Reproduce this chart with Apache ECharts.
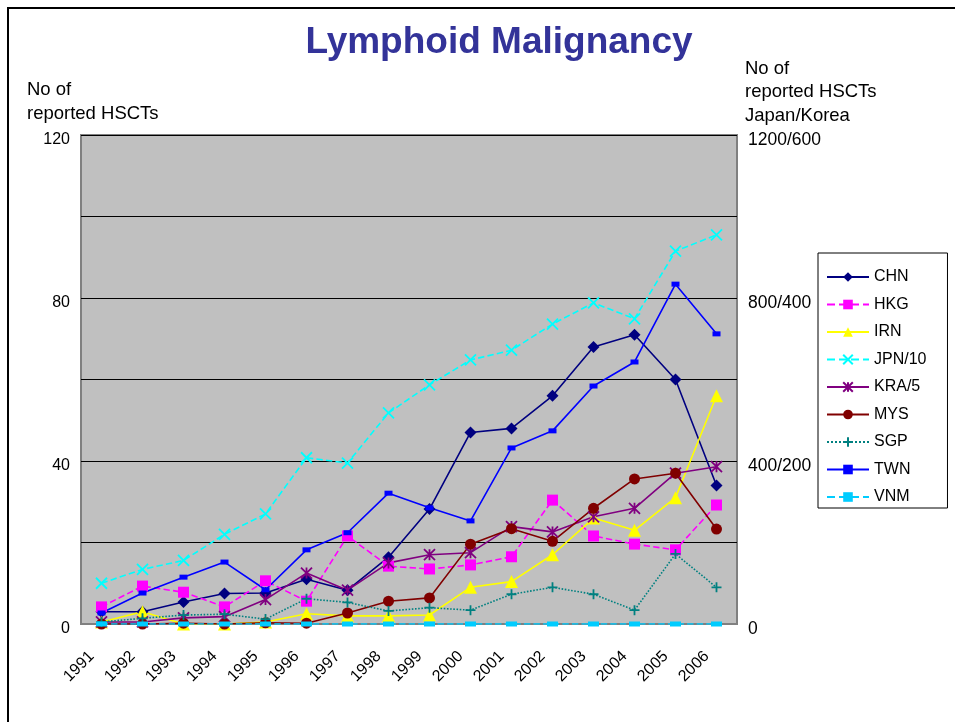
<!DOCTYPE html>
<html>
<head>
<meta charset="utf-8">
<script src="https://cdn.jsdelivr.net/npm/echarts@6/dist/echarts.min.js"></script>
<style>
  html, body { margin: 0; padding: 0; background: #fff; }
  #main { width: 955px; height: 722px; }
</style>
</head>
<body>
<div id="main"></div>
<script>
// data
var years = ['1991', '1992', '1993', '1994', '1995', '1996', '1997', '1998',
  '1999', '2000', '2001', '2002', '2003', '2004', '2005', '2006'];
var chn = [3, 3, 5.4, 7.5, 7.6, 11, 8.3, 16.4, 28.2, 47, 48, 56, 68, 71, 60, 34];
var hkg = [4.2, 9.3, 7.8, 4.2, 10.6, 5.6, 21.6, 14.2, 13.5, 14.5, 16.5, 30.4, 21.6, 19.6, 18.2, 29.2];
var irn = [0.5, 3, 0, 0, 0.5, 2.5, 2, 2, 2.2, 9, 10.4, 17, 26, 23, 31, 56];
var jpn10 = [10, 13.4, 15.6, 22, 27, 40.8, 39.5, 51.8, 58.7, 64.8, 67.2, 73.6, 78.8, 74.9, 91.5, 95.5];
var kra5 = [0.5, 0.5, 1.5, 1.8, 6, 12.5, 8.3, 15, 17, 17.5, 23.9, 22.6, 26.3, 28.4, 37, 38.6];
var mys = [0, 0, 0.2, 0, 0.3, 0.2, 2.7, 5.6, 6.4, 19.6, 23.4, 20.3, 28.4, 35.6, 37, 23.3];
var sgp = [0.5, 1.4, 2.2, 2.4, 1.2, 6.2, 5.3, 3.2, 4, 3.4, 7.3, 9, 7.3, 3.4, 17.2, 9];
var twn = [2.7, 7.6, 11.5, 15.2, 8.4, 18.2, 22.4, 32.1, 28.5, 25.3, 43.2, 47.4, 58.4, 64.3, 83.4, 71.2];
var vnm = [0, 0, 0, 0, 0, 0, 0, 0, 0, 0, 0, 0, 0, 0, 0, 0];
var leftTicks = [0, 40, 80, 120];
var rightTicks = ['0', '400/200', '800/400', '1200/600'];

var font = 'Liberation Sans';
var chart = echarts.init(document.getElementById('main'));

function mk(name, data, color, symbol, size, lineType, extra) {
  var s = {
    name: name,
    type: 'line',
    data: data,
    symbol: symbol,
    symbolSize: size,
    lineStyle: { color: color, width: 1.6, type: lineType },
    itemStyle: { color: color },
    emphasis: { disabled: true },
    animation: false
  };
  if (extra) s.itemStyle = extra;
  return s;
}

var option = {
  backgroundColor: '#fff',
  title: {
    text: 'Lymphoid Malignancy',
    left: 494, top: 19, textAlign: 'center',
    textStyle: { fontFamily: font, fontSize: 37, fontWeight: 'bold', color: '#333399' }
  },
  graphic: [
    { type: 'rect', shape: { x: 8, y: 8, width: 980, height: 760 },
      style: { fill: 'none', stroke: '#000', lineWidth: 2 }, silent: true },
    { type: 'text', left: 27, top: 78,
      style: { text: 'No of\nreported HSCTs', font: '18.5px ' + font, fill: '#000', lineHeight: 24 } },
    { type: 'text', left: 745, top: 57,
      style: { text: 'No of\nreported HSCTs\nJapan/Korea', font: '18.5px ' + font, fill: '#000', lineHeight: 23.5 } }
  ],
  legend: {
    orient: 'vertical',
    left: 818, top: 253,
    padding: [16, 21, 3, 8],
    itemWidth: 42, itemHeight: 12, itemGap: 11.5,
    backgroundColor: '#fff',
    borderColor: '#000', borderWidth: 1,
    textStyle: { fontFamily: font, fontSize: 16, color: '#000' },
    data: ['CHN', 'HKG', 'IRN', 'JPN/10', 'KRA/5', 'MYS', 'SGP', 'TWN', 'VNM']
  },
  grid: { left: 81, right: 218, top: 135, bottom: 98, show: true,
    backgroundColor: '#c0c0c0', borderColor: '#808080', borderWidth: 2 },
  xAxis: {
    type: 'category', data: years, boundaryGap: true,
    axisLine: { lineStyle: { color: '#808080', width: 2 } },
    axisTick: { inside: true, length: 5, lineStyle: { color: '#000' } },
    axisLabel: { rotate: 45, margin: 20, padding: [0, 14, 0, 0],
      fontFamily: font, fontSize: 16, color: '#000' }
  },
  yAxis: [{
    type: 'value', min: 0, max: 120, interval: 20, position: 'left',
    axisLine: { show: false }, axisTick: { show: false },
    splitLine: { lineStyle: { color: '#000', width: 1 } },
    axisLabel: { margin: 11, fontFamily: font, fontSize: 16, color: '#000',
      verticalAlign: 'top', lineHeight: 9,
      formatter: function (v) { return leftTicks.indexOf(v) >= 0 ? String(v) : ''; } }
  }, {
    type: 'value', min: 0, max: 120, interval: 40, position: 'right',
    axisLine: { show: false }, axisTick: { show: false }, splitLine: { show: false },
    axisLabel: { margin: 11, fontFamily: font, fontSize: 17.5, color: '#000',
      verticalAlign: 'top', lineHeight: 10,
      formatter: function (v) { return rightTicks[leftTicks.indexOf(v)]; } }
  }],
  series: [
    mk('CHN', chn, '#000080', 'diamond', 12, 'solid'),
    mk('HKG', hkg, '#ff00ff', 'rect', 11, 'dashed'),
    mk('IRN', irn, '#ffff00', 'triangle', 13, 'solid'),
    mk('JPN/10', jpn10, '#00ffff', 'path://M0,0L10,10M10,0L0,10', 11, 'dashed',
      { color: '#00ffff', borderColor: '#00ffff', borderWidth: 1.8 }),
    mk('KRA/5', kra5, '#800080', 'path://M0,0L10,10M10,0L0,10M5,0L5,10', 11, 'solid',
      { color: '#800080', borderColor: '#800080', borderWidth: 1.8 }),
    mk('MYS', mys, '#800000', 'circle', 11, 'solid'),
    mk('SGP', sgp, '#008080', 'path://M5,0L5,10M0,5L10,5', 10, 'dotted',
      { color: '#008080', borderColor: '#008080', borderWidth: 1.8 }),
    mk('TWN', twn, '#0000ff', 'rect', [8, 5], 'solid'),
    mk('VNM', vnm, '#00ccff', 'rect', [11, 5], 'dashed')
  ]
};
chart.setOption(option);
</script>
</body>
</html>
